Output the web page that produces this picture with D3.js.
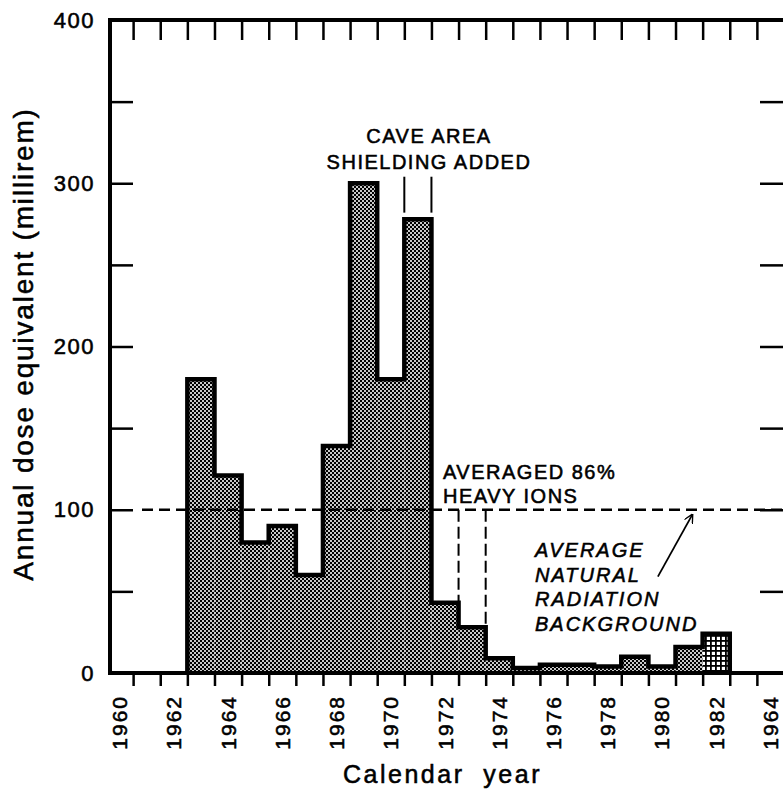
<!DOCTYPE html>
<html>
<head>
<meta charset="utf-8">
<script src="https://cdn.jsdelivr.net/npm/d3@7"></script>
<style>
  body { margin: 0; background: #fff; }
  svg { display: block; font-family: "Liberation Sans", Arial, sans-serif; }
  svg text { fill: #000; stroke: #000; stroke-width: 0.55px; }
</style>
</head>
<body>
<svg></svg>
<script>
const years = [1963, 1964, 1965, 1966, 1967, 1968, 1969, 1970, 1971, 1972,
               1973, 1974, 1975, 1976, 1977, 1978, 1979, 1980, 1981, 1982];
const dose = [180, 121, 80, 90, 60, 139, 300, 180, 278, 43,
              28, 9, 3, 5, 5, 4, 10, 4, 16, 24];
const yTickValues = [0, 100, 200, 300, 400];
const yMinorTicks = [50, 150, 250, 350];
const xLabelYears = [1960, 1962, 1964, 1966, 1968, 1970, 1972, 1974, 1976, 1978, 1980, 1982, 1984];
const xLabelText = ["1960", "1962", "1964", "1966", "1968", "1970", "1972", "1974", "1976", "1978", "1980", "1982", "1964"];
const yearBounds = d3.range(1961, 1985);
const averageBackground = 100;

const w = 783;
const h = 790;
const padLeft = 110;
const padTop = 20;
const padBottom = 673;
const padRight = 783;

const svg = d3.select('svg')
    .attr("width", w)
    .attr("height", h)

const x = d3.scaleLinear().domain([1960, 1985]).range([106, 784]);
const y = d3.scaleLinear().domain([0, 400]).range([padBottom, padTop]);

const defs = svg.append("defs")

// halftone shading used for most bars
const pat = defs.append("pattern")
    .attr("id", "halftone")
    .attr("width", 4)
    .attr("height", 4)
    .attr("patternUnits", "userSpaceOnUse")
pat.append("rect").attr("width", 4).attr("height", 4).attr("fill", "#c8c8c8")
pat.append("rect").attr("width", 2).attr("height", 2).attr("fill", "#000")
pat.append("rect").attr("x", 2).attr("y", 2).attr("width", 2).attr("height", 2).attr("fill", "#000")

// coarser grid for 1982
const pat2 = defs.append("pattern")
    .attr("id", "grid")
    .attr("width", 5)
    .attr("height", 5)
    .attr("patternUnits", "userSpaceOnUse")
pat2.append("rect").attr("width", 5).attr("height", 5).attr("fill", "#fff")
pat2.append("rect").attr("width", 5).attr("height", 1.8).attr("fill", "#000")
pat2.append("rect").attr("width", 1.8).attr("height", 5).attr("fill", "#000")

defs.append("marker")
    .attr("id", "arrow")
    .attr("viewBox", "0 0 10 10")
    .attr("refX", 9)
    .attr("refY", 5)
    .attr("markerWidth", 5)
    .attr("markerHeight", 5)
    .attr("orient", "auto")
  .append("path")
    .attr("d", "M0,0L10,5L0,10")
    .attr("fill", "none")
    .attr("stroke", "#000")
    .attr("stroke-width", 1.5)

const bars = years.map((yr, i) => ({year: yr, value: dose[i]}));

svg.append("g")
  .selectAll("rect")
  .data(bars)
  .join("rect")
    .attr("x", d => x(d.year))
    .attr("y", d => y(d.value))
    .attr("width", d => x(d.year + 1) - x(d.year))
    .attr("height", d => y(0) - y(d.value))
    .attr("fill", d => d.year === 1982 ? "url(#grid)" : "url(#halftone)")

// stepped outline along the bar tops
const stepPts = [{year: years[0], value: 0}, ...bars,
                 {year: years[years.length - 1] + 1, value: dose[dose.length - 1]},
                 {year: years[years.length - 1] + 1, value: 0}];
svg.append("path")
    .datum(stepPts)
    .attr("d", d3.line().x(d => x(d.year)).y(d => y(d.value)).curve(d3.curveStepAfter))
    .attr("fill", "none")
    .attr("stroke", "#000")
    .attr("stroke-width", 4.5)
    .attr("stroke-linejoin", "miter")

// dashed line at average background level
svg.append("line")
    .attr("x1", 142).attr("x2", padRight)
    .attr("y1", y(averageBackground)).attr("y2", y(averageBackground))
    .attr("stroke", "#000")
    .attr("stroke-width", 2.5)
    .attr("stroke-dasharray", "11,6")

// dashed drops for heavy-ion years
svg.append("g")
  .selectAll("line")
  .data([1973, 1974])
  .join("line")
    .attr("x1", d => x(d)).attr("x2", d => x(d))
    .attr("y1", y(averageBackground))
    .attr("y2", d => y(dose[years.indexOf(d - 1)]))
    .attr("stroke", "#000")
    .attr("stroke-width", 2)
    .attr("stroke-dasharray", "12,5")

// shielding markers over 1971
svg.append("g")
  .selectAll("line")
  .data([1971, 1972])
  .join("line")
    .attr("x1", d => x(d)).attr("x2", d => x(d))
    .attr("y1", y(304)).attr("y2", y(282))
    .attr("stroke", "#000")
    .attr("stroke-width", 2)

// pointer from the italic note to the dashed line
svg.append("line")
    .attr("x1", x(1980.35)).attr("y1", y(59))
    .attr("x2", x(1981.62)).attr("y2", y(97))
    .attr("stroke", "#000")
    .attr("stroke-width", 1.8)
    .attr("marker-end", "url(#arrow)")

// axes
const yAxis = d3.axisLeft(y)
    .tickValues(yTickValues.concat(yMinorTicks))
    .tickFormat(d => yTickValues.includes(d) ? d : "")
    .tickSize(-23)
    .tickPadding(15)
svg.append("g")
    .attr("transform", "translate(" + padLeft + ",0)")
    .call(yAxis)
    .call(g => g.select(".domain").remove())
    .call(g => g.selectAll("line").attr("stroke-width", 2.5))
    .call(g => g.selectAll("text").attr("font-size", 22).attr("letter-spacing", 1.5).attr("font-family", null))

svg.append("g")
    .attr("transform", "translate(" + padRight + ",0)")
    .call(d3.axisRight(y).tickValues(yMinorTicks.concat([100, 200, 300])).tickSize(-23).tickFormat(""))
    .call(g => g.select(".domain").remove())
    .call(g => g.selectAll("line").attr("stroke-width", 2.5))

svg.append("g")
    .attr("transform", "translate(0," + padBottom + ")")
    .call(d3.axisBottom(x).tickValues(yearBounds).tickSize(13).tickFormat(""))
    .call(g => g.select(".domain").remove())
    .call(g => g.selectAll("line").attr("stroke-width", 2.5))

svg.append("g")
    .attr("transform", "translate(0," + padTop + ")")
    .call(d3.axisTop(x).tickValues(yearBounds).tickSize(-20).tickFormat(""))
    .call(g => g.select(".domain").remove())
    .call(g => g.selectAll("line").attr("stroke-width", 2.5))

// frame
svg.append("path")
    .attr("d", "M" + padRight + "," + padTop + "H" + padLeft + "V" + padBottom + "H" + padRight)
    .attr("fill", "none")
    .attr("stroke", "#000")
    .attr("stroke-width", 4)

// rotated year labels
svg.append("g")
  .selectAll("text")
  .data(xLabelYears)
  .join("text")
    .attr("transform", d => "translate(" + (x(d + 0.5) + 7.5) + ",695) rotate(-90)")
    .attr("text-anchor", "end")
    .attr("font-size", 21)
    .attr("letter-spacing", 2)
    .text((d, i) => xLabelText[i])

svg.append("text")
    .attr("transform", "translate(33,344) rotate(-90)")
    .attr("text-anchor", "middle")
    .attr("font-size", 28)
    .attr("letter-spacing", 1.8)
    .text("Annual dose equivalent (millirem)")

svg.append("text")
    .attr("x", 343)
    .attr("y", 783)
    .attr("font-size", 25)
    .attr("letter-spacing", 2.5)
    .style("white-space", "pre")
    .text("Calendar  year")

const note = (lines, x0, y0, step, italic) => {
  lines.forEach((t, i) => {
    svg.append("text")
        .attr("x", x0)
        .attr("y", y0 + i * step)
        .attr("font-size", 20)
        .attr("letter-spacing", italic ? 2 : 1.5)
        .attr("font-style", italic ? "italic" : "normal")
        .text(t)
  })
}

svg.append("text").attr("x", 429).attr("y", 143).attr("text-anchor", "middle")
    .attr("font-size", 20).attr("letter-spacing", 1.5).text("CAVE AREA")
svg.append("text").attr("x", 429).attr("y", 169).attr("text-anchor", "middle")
    .attr("font-size", 20).attr("letter-spacing", 1.5).text("SHIELDING ADDED")

note(["AVERAGED 86%", "HEAVY IONS"], 443, 479, 24, false)
note(["AVERAGE", "NATURAL", "RADIATION", "BACKGROUND"], 535, 557, 24.7, true)
</script>
</body>
</html>
